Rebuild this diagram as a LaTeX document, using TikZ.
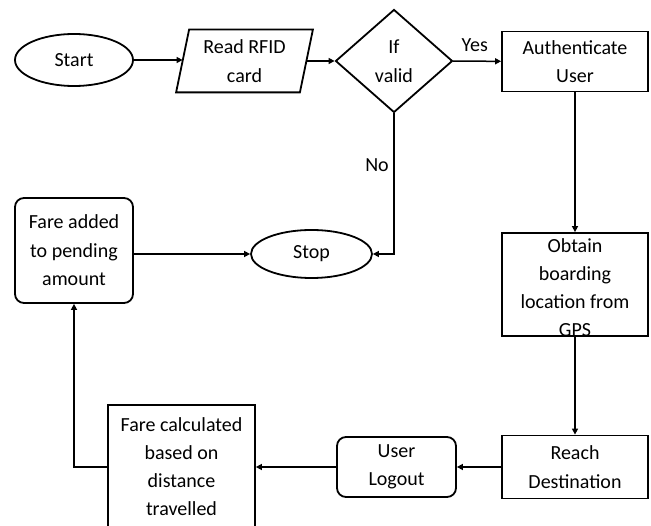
\documentclass[tikz,border=0pt]{standalone}
\usepackage{fontspec}
\setmainfont{Carlito}
\usetikzlibrary{shapes.geometric,arrows.meta}
\tikzset{
  x=1pt,y=-1pt,
  base/.style={font=\fontsize{20}{28.5}\selectfont, align=center, inner sep=0pt, line width=1.8pt},
  boxr/.style={base, draw, rectangle},
  rbox/.style={base, draw, rectangle, rounded corners=9pt},
  oval/.style={base, draw, ellipse},
  dec/.style={base, draw, diamond},
  ghost/.style={base, rectangle},
  txt/.style={font=\fontsize{20}{28}\selectfont, align=center, inner sep=0pt},
  conn/.style={line width=1.5pt, -{Triangle[length=6pt,width=6pt]}},
  lbl/.style={font=\fontsize{20}{24}\selectfont, inner sep=0pt}
}
\begin{document}
\begin{tikzpicture}
\useasboundingbox (0,0) rectangle (651,526);
% nodes
\node[oval, minimum width=118, minimum height=52] (start) at (74,60) {Start};
\node[ghost, minimum width=122, minimum height=61] (rfid) at (244.5,61) {Read RFID\\card};
\draw[line width=1.8pt] ([xshift=-6.5pt]rfid.south west) -- ([xshift=-6.5pt]rfid.south east)
  -- ([xshift=6.5pt]rfid.north east) -- ([xshift=6.5pt]rfid.north west) -- cycle;
\node[dec, minimum width=117, minimum height=103] (valid) at (394,61) {If\\valid};
\node[boxr, minimum width=146, minimum height=60] (auth) at (575,61.5) {Authenticate\\User};
\node[boxr, minimum width=146, minimum height=103] (obtain) at (575,284.5) {};
\node[txt] (obtaintxt) at (575,288) {Obtain\\boarding\\location from\\GPS};
\node[boxr, minimum width=146, minimum height=63] (reach) at (575,467) {Reach\\Destination};
\node[rbox, minimum width=119, minimum height=60] (logout) at (396.5,467) {User\\Logout};
\node[boxr, minimum width=147, minimum height=130] (fcalc) at (181.5,470) {};
\node[txt] (fcalctxt) at (181.5,467) {Fare calculated\\based on\\distance\\travelled};
\node[rbox, minimum width=118, minimum height=105] (fadd) at (74,250.5) {Fare added\\to pending\\amount};
\node[oval, minimum width=121, minimum height=48] (stop) at (311.5,254) {Stop};
% connectors
\draw[conn] (start) -- (start -| rfid.west);
\draw[conn] (rfid) -- (valid);
\draw[conn] (valid) -- node[lbl, above=9pt, pos=0.45] (yes) {Yes} (auth);
\draw[conn] (valid.south) |- (stop.east);
\node[lbl] (no) at (377,165) {No};
\draw[conn] (auth) -- (obtain);
\draw[conn] (obtain) -- (reach);
\draw[conn] (reach.west) -- (logout.east);
\draw[conn] (logout.west) -- (fcalc.east |- logout.west);
\draw[conn] (fcalc.west |- logout.west) -| (fadd.south);
\draw[conn] (fadd.east |- stop.west) -- (stop.west);
\end{tikzpicture}
\end{document}
